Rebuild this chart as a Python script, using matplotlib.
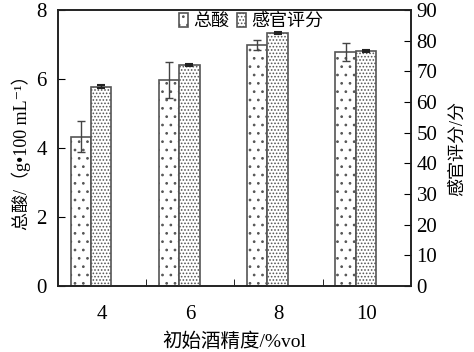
import numpy as np
import matplotlib.pyplot as plt

plt.rcParams['font.family'] = ['Liberation Serif', 'Noto Sans CJK SC', 'DejaVu Sans']
plt.rcParams['hatch.color'] = '#222222'
plt.rcParams['hatch.linewidth'] = 0.75

categories = ['4', '6', '8', '10']
acid = [4.33, 5.98, 6.99, 6.78]
acid_err = [0.45, 0.52, 0.15, 0.26]
score = [65.0, 72.0, 82.5, 76.7]
score_err = [0.4, 0.4, 0.4, 0.4]

x = np.arange(len(categories))
w = 0.23
shift = -0.125

fig = plt.figure(figsize=(4.74, 3.52), dpi=100)
ax = fig.add_axes([0.122, 0.1875, 0.745, 0.784])
ax2 = ax.twinx()

b1 = ax.bar(x + shift - w / 2, acid, w, color='white', edgecolor='#555555',
            linewidth=1.2, hatch='..', label='总酸')
ax.errorbar(x + shift - w / 2, acid, yerr=acid_err, fmt='none', ecolor='#444444',
            elinewidth=1, capsize=3, capthick=1)
b2 = ax2.bar(x + shift + w / 2, score, w, color='white', edgecolor='#555555',
             linewidth=1.2, hatch='.....', label='感官评分')
ax2.errorbar(x + shift + w / 2, score, yerr=score_err, fmt='none', ecolor='#222222',
             elinewidth=1, capsize=3, capthick=1.5)

ax.set_xlim(-0.5, 3.5)
ax.set_ylim(0, 8)
ax.set_yticks([0, 2, 4, 6, 8])
ax2.set_ylim(0, 90)
ax2.set_yticks(np.arange(0, 91, 10))

ax.set_xticks(x)
ax.set_xticklabels(categories)
ax.set_xticks([0.5, 1.5, 2.5], minor=True)
ax.tick_params(axis='x', which='major', length=0, pad=14, labelsize=15)
ax.tick_params(axis='x', which='minor', direction='in', length=5)
ax.tick_params(axis='y', direction='in', length=5, labelsize=15, pad=8)
ax2.tick_params(axis='y', direction='in', length=5, labelsize=15, pad=4)

for a in (ax, ax2):
    for s in a.spines.values():
        s.set_color('#222222')
        s.set_linewidth(1.2)

ax.set_xlabel('初始酒精度/%vol', fontsize=14, labelpad=6)
ax.set_ylabel('总酸/（g•100 mL⁻¹）', fontsize=13, labelpad=4)
ax2.set_ylabel('感官评分/分', fontsize=13, rotation=90, labelpad=8)

fig.legend(handles=[b1, b2], loc='upper center', bbox_to_anchor=(0.53, 1.01),
           ncol=2, frameon=False, fontsize=13, handlelength=0.5, handleheight=0.8,
           handletextpad=0.3, columnspacing=0.4)

fig.savefig('out.png', dpi=100)
